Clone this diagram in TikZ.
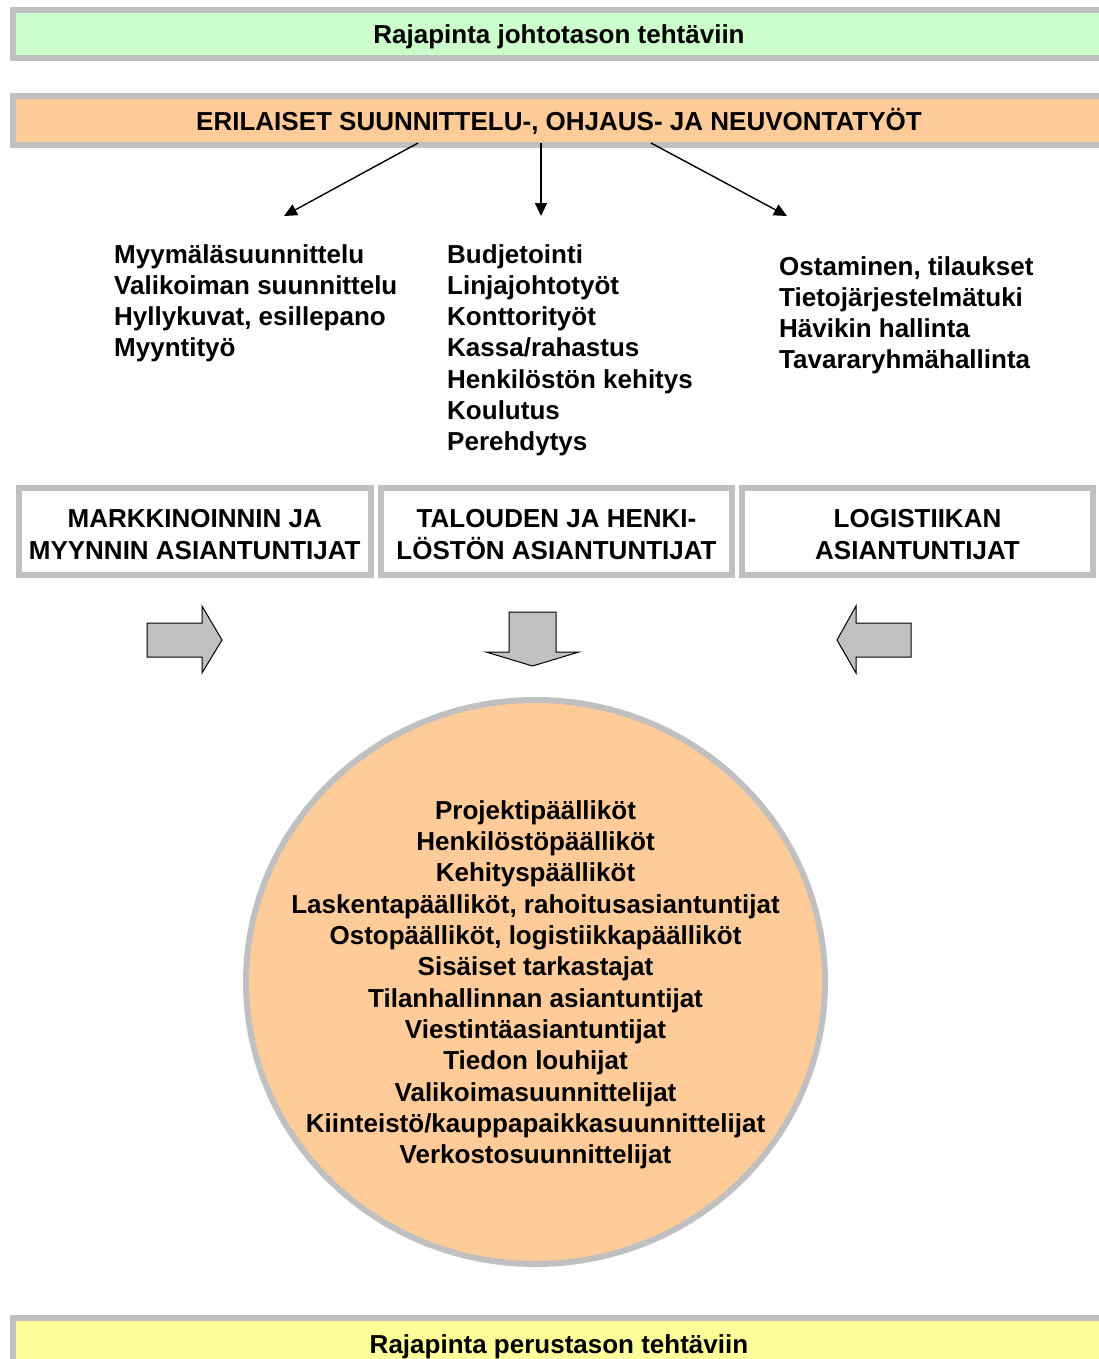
\documentclass[tikz,border=0pt]{standalone}
\usepackage{fontspec}
\setmainfont{Liberation Sans}
\usetikzlibrary{arrows.meta,shapes.geometric}
\definecolor{frameGray}{HTML}{C0C0C0}
\definecolor{mintFill}{HTML}{CCFFCC}
\definecolor{peachFill}{HTML}{FFCC99}
\definecolor{lemonFill}{HTML}{FFFF99}
\newcommand{\tallfirst}{\rule{0pt}{25pt}}
\begin{document}
\begin{tikzpicture}[x=1pt,y=-1pt,
  bigfont/.style={font=\bfseries\fontsize{26}{31.3}\selectfont},
  label/.style={bigfont, inner sep=0pt},
  band/.style={draw=frameGray, line width=6pt, rectangle, inner sep=0pt,
    minimum width=1120pt, anchor=north west},
  expertbox/.style={draw=frameGray, line width=6pt, rectangle, inner sep=0pt,
    minimum width=351.5pt, minimum height=87pt,
    align=center, font=\bfseries\fontsize{26}{32}\selectfont},
  link/.style={draw=black, line width=1.4pt, -{Triangle[length=13pt,width=12pt]}},
  blockarrow/.style={draw=black, line width=1pt, fill=frameGray, line join=miter}
]
\useasboundingbox (0,0) rectangle (1099,1359);
\begin{scope}
\clip (0,0) rectangle (1099,1359);

% horizontal bands
\node[band, fill=mintFill, minimum height=48pt] (topband) at (10,7) {};
\node[label, anchor=base] (toptext) at (559,44) {Rajapinta johtotason tehtäviin};

\node[band, fill=peachFill, minimum height=49pt] (workband) at (10,93) {};
\node[label, anchor=base] (worktext) at (559,131) {ERILAISET SUUNNITTELU-, OHJAUS- JA NEUVONTATYÖT};

\node[band, fill=lemonFill, minimum height=60pt] (baseband) at (10,1315) {};
\node[label, anchor=base] (basetext) at (559,1353.5) {Rajapinta perustason tehtäviin};

% connectors from the work band
\coordinate (s1) at (418,143);
\coordinate (s2) at (541,143);
\coordinate (s3) at (651,143);
\coordinate (t1) at (284,216);
\coordinate (t2) at (541,216);
\coordinate (t3) at (787,216);
\draw[link] (s1) -- (t1);
\draw[link] (s2) -- (t2);
\draw[link] (s3) -- (t3);

% task lists
\foreach [count=\i] \t in {Myymäläsuunnittelu, Valikoiman suunnittelu,
    {Hyllykuvat, esillepano}, Myyntityö}
  \node[label, anchor=base west] (mk\i) at (114,{263+31.3*(\i-1)}) {\t};
\foreach [count=\i] \t in {Budjetointi, Linjajohtotyöt, Konttorityöt,
    Kassa/rahastus, Henkilöstön kehitys, Koulutus, Perehdytys}
  \node[label, anchor=base west] (th\i) at (447,{263+31.3*(\i-1)}) {\t};
\foreach [count=\i] \t in {{Ostaminen, tilaukset}, Tietojärjestelmätuki,
    Hävikin hallinta, Tavararyhmähallinta}
  \node[label, anchor=base west] (lg\i) at (779,{275+31.3*(\i-1)}) {\t};

% expert groups
\node[expertbox] (market) at (194.75,531.5) {\tallfirst MARKKINOINNIN JA\\MYYNNIN ASIANTUNTIJAT};
\node[expertbox] (finance) at (556.5,531.5) {\tallfirst TALOUDEN JA HENKI-\\LÖSTÖN ASIANTUNTIJAT};
\node[expertbox] (logistics) at (917.5,531.5) {\tallfirst LOGISTIIKAN\\ASIANTUNTIJAT};

% block arrows towards the centre
\draw[blockarrow] (147,623) -- (202,623) -- (202,606) -- (222,640)
  -- (202,673) -- (202,657) -- (147,657) -- cycle;
\draw[blockarrow] (911,623) -- (856,623) -- (856,606) -- (837,640)
  -- (856,673) -- (856,657) -- (911,657) -- cycle;
\draw[blockarrow] (509,612) -- (556,612) -- (556,652) -- (579,652)
  -- (532.5,666) -- (486,652) -- (509,652) -- cycle;

% central group
\node[ellipse, draw=frameGray, line width=6pt, fill=peachFill, inner sep=0pt,
  minimum width=579pt, minimum height=564pt] (hub) at (535.5,982) {};
\foreach [count=\i] \t in {Projektipäälliköt, Henkilöstöpäälliköt,
    Kehityspäälliköt, {Laskentapäälliköt, rahoitusasiantuntijat},
    {Ostopäälliköt, logistiikkapäälliköt}, Sisäiset tarkastajat,
    Tilanhallinnan asiantuntijat, Viestintäasiantuntijat, Tiedon louhijat,
    Valikoimasuunnittelijat, Kiinteistö/kauppapaikkasuunnittelijat,
    Verkostosuunnittelijat}
  \node[label, anchor=base] (role\i) at (535.5,{819+31.36*(\i-1)}) {\t};
\end{scope}
\end{tikzpicture}
\end{document}
